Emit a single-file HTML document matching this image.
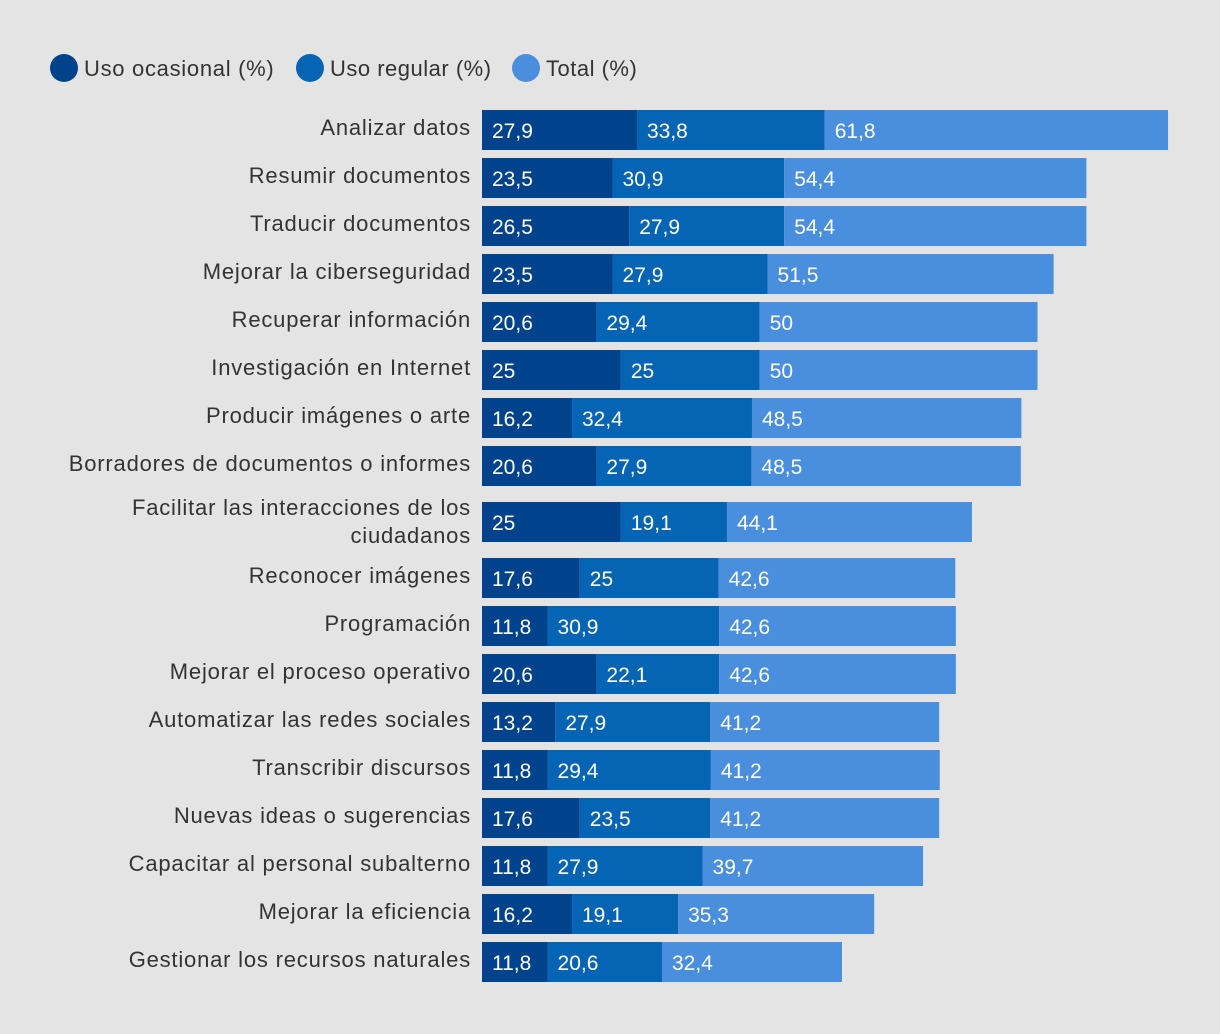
<!DOCTYPE html>
<html><head><meta charset="utf-8">
<style>
html,body{margin:0;padding:0;background:#e4e4e4;}
svg{display:block;font-family:"Liberation Sans",Arial,sans-serif;}
</style></head>
<body>
<svg id="chart" width="1220" height="1034" viewBox="0 0 1220 1034">
<rect width="1220" height="1034" fill="#e4e4e4"/>
<g>
 <g>
  <circle cx="64" cy="68" r="14" fill="#00428c"/>
  <text x="84" y="76" font-size="22" letter-spacing="0.7" fill="#333">Uso ocasional (%)</text>
 </g>
 <g>
  <circle cx="310" cy="68" r="14" fill="#0565b4"/>
  <text x="330" y="76" font-size="22" letter-spacing="0.5" fill="#333">Uso regular (%)</text>
 </g>
 <g>
  <circle cx="526" cy="68" r="14" fill="#4a8ede"/>
  <text x="546" y="76" font-size="22" letter-spacing="0.5" fill="#333">Total (%)</text>
 </g>
</g>
<g id="bars"></g>
</svg>
<script>
const categories = [
 ["Analizar datos"],["Resumir documentos"],["Traducir documentos"],["Mejorar la ciberseguridad"],
 ["Recuperar información"],["Investigación en Internet"],["Producir imágenes o arte"],
 ["Borradores de documentos o informes"],["Facilitar las interacciones de los","ciudadanos"],
 ["Reconocer imágenes"],["Programación"],["Mejorar el proceso operativo"],
 ["Automatizar las redes sociales"],["Transcribir discursos"],["Nuevas ideas o sugerencias"],
 ["Capacitar al personal subalterno"],["Mejorar la eficiencia"],["Gestionar los recursos naturales"]
];
const ocasional = [27.9,23.5,26.5,23.5,20.6,25,16.2,20.6,25,17.6,11.8,20.6,13.2,11.8,17.6,11.8,16.2,11.8];
const regular   = [33.8,30.9,27.9,27.9,29.4,25,32.4,27.9,19.1,25,30.9,22.1,27.9,29.4,23.5,27.9,19.1,20.6];
const total     = [61.8,54.4,54.4,51.5,50,50,48.5,48.5,44.1,42.6,42.6,42.6,41.2,41.2,41.2,39.7,35.3,32.4];
const colors = ["#00428c","#0565b4","#4a8ede"];
const x0 = 482, scale = 5.555;
const xPos = v => x0 + v*scale;
const fmt = v => String(v).replace('.',',');
const ns = "http://www.w3.org/2000/svg";
const g = document.getElementById('bars');
let y = 110;
categories.forEach((cat,i)=>{
  const row = document.createElementNS(ns,'g');
  
  
  const lab = document.createElementNS(ns,'text');
  
  
  lab.setAttribute('text-anchor','end');
  lab.setAttribute('font-size','22');
  lab.setAttribute('letter-spacing','0.8');
  lab.setAttribute('fill','#333');
  if(cat.length===1){
    lab.setAttribute('x',471); lab.setAttribute('y',y+25); lab.textContent=cat[0];
  } else {
    cat.forEach((t,k)=>{
      const ts=document.createElementNS(ns,'tspan');
      ts.setAttribute('x',471); ts.setAttribute('y',y+13+k*28); ts.textContent=t;
      lab.appendChild(ts);
    });
  }
  row.appendChild(lab);
  const vals=[ocasional[i],regular[i],total[i]];
  const names=['segment-ocasional','segment-regular','segment-total'];
  let acc=0;
  vals.forEach((v,j)=>{
    const r=document.createElementNS(ns,'rect');
    
    
    r.setAttribute('x',xPos(acc)); r.setAttribute('y',y);
    r.setAttribute('width',xPos(acc+v)-xPos(acc)); r.setAttribute('height',40);
    r.setAttribute('fill',colors[j]);
    row.appendChild(r);
    const t=document.createElementNS(ns,'text');
    
    
    t.setAttribute('x',xPos(acc)+10); t.setAttribute('y',y+28);
    t.setAttribute('font-size','21'); t.setAttribute('fill','#fff');
    t.textContent=fmt(v);
    row.appendChild(t);
    acc+=v;
  });
  g.appendChild(row);
  y += (cat.length>1 || (i+1<categories.length && categories[i+1].length>1)) ? 56 : 48;
});
</script>
</body></html>
